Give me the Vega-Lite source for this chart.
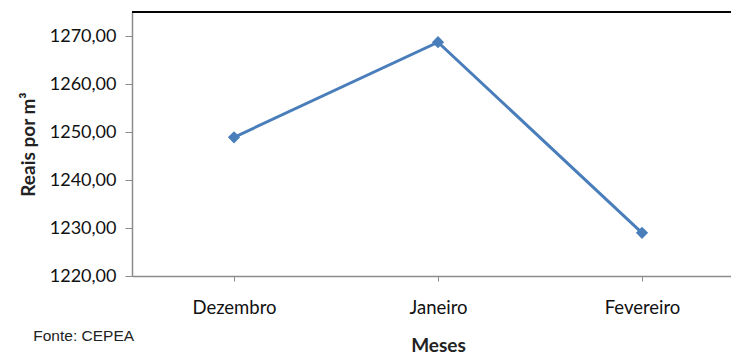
{
  "$schema": "https://vega.github.io/schema/vega-lite/v6.json",
  "autosize": {"type": "none"},
  "padding": {"left": 132, "top": 12, "right": 0, "bottom": 80},
  "width": 599,
  "height": 264,
  "background": "white",
  "config": {"view": {"stroke": null}, "font": "Lato"},
  "title": {
    "text": "Fonte: CEPEA",
    "orient": "bottom",
    "anchor": "start",
    "frame": "bounds",
    "font": "Liberation Sans",
    "fontSize": 15.5,
    "fontWeight": "normal",
    "color": "#222222",
    "dx": 14,
    "dy": -31
  },
  "data": {
    "values": [
      {"mes": "Dezembro", "valor": 1248.9},
      {"mes": "Janeiro", "valor": 1268.7},
      {"mes": "Fevereiro", "valor": 1229.0}
    ]
  },
  "layer": [
    {
      "mark": {"type": "rule", "color": "#000000", "strokeWidth": 1.5},
      "encoding": {"y": {"datum": 1275}}
    },
    {
      "mark": {"type": "line", "color": "#4a7ebb", "strokeWidth": 3, "point": {"shape": "diamond", "size": 150, "filled": true, "color": "#4a7ebb"}},
      "encoding": {
        "x": {
          "field": "mes",
          "type": "nominal",
          "sort": null,
          "scale": {"range": [0, 612], "paddingInner": 0, "paddingOuter": 0},
          "axis": {
            "title": "Meses",
            "titleFontSize": 19,
            "titleFontWeight": "bold",
            "titleColor": "#222222",
            "titlePadding": 20,
            "labelAngle": 0,
            "labelFontSize": 18.5,
            "labelColor": "#111111",
            "labelPadding": 17,
            "bandPosition": 0,
            "domainColor": "#8c8c8c",
            "domainWidth": 1.5,
            "tickColor": "#8c8c8c",
            "tickSize": 5,
            "grid": false
          }
        },
        "y": {
          "field": "valor",
          "type": "quantitative",
          "scale": {"domain": [1220, 1275], "zero": false, "nice": false},
          "axis": {
            "title": "Reais por m³",
            "titleFontSize": 19,
            "titleFontWeight": "bold",
            "titleColor": "#222222",
            "titlePadding": 11,
            "values": [1220, 1230, 1240, 1250, 1260, 1270],
            "labelExpr": "replace(format(datum.value, '.2f'), '.', ',')",
            "labelFontSize": 18,
            "labelColor": "#111111",
            "labelPadding": 9,
            "domainColor": "#8c8c8c",
            "domainWidth": 1.5,
            "tickColor": "#8c8c8c",
            "tickSize": 7,
            "grid": false
          }
        }
      }
    }
  ]
}
